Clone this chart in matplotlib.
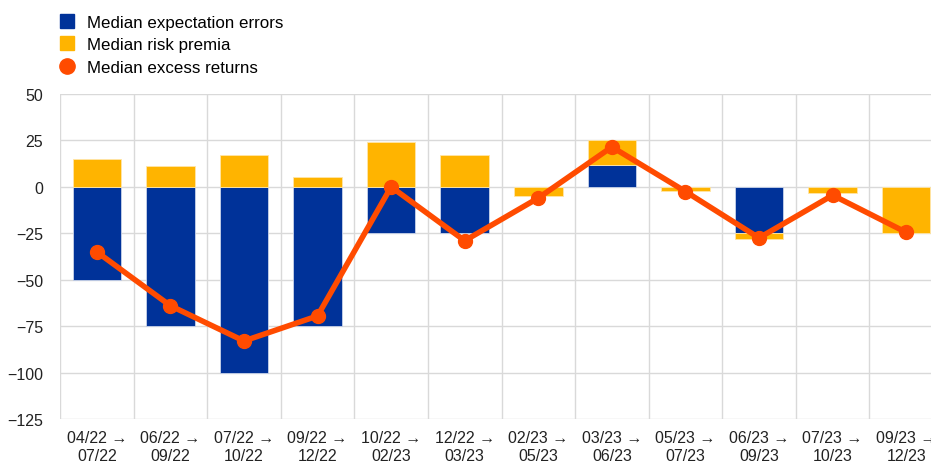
import numpy as np
import matplotlib.pyplot as plt
from matplotlib.lines import Line2D

plt.rcParams['font.family'] = ['Liberation Sans', 'DejaVu Sans']

# periods (start -> end)
periods = ["04/22 →\n07/22", "06/22 →\n09/22", "07/22 →\n10/22", "09/22 →\n12/22",
           "10/22 →\n02/23", "12/22 →\n03/23", "02/23 →\n05/23", "03/23 →\n06/23",
           "05/23 →\n07/23", "06/23 →\n09/23", "07/23 →\n10/23", "09/23 →\n12/23"]

# basis points
expectation_errors = [-50, -75, -100, -75, -25, -25, 0, 12, 0, -25, 0, 0]
risk_premia = [15, 11, 17, 5.5, 24, 17, -5, 13, -2, -3, -3.5, -25]
excess_returns = [-35, -64, -83, -69.5, 0, -29, -6, 21.5, -2.5, -27.5, -4.5, -24.5]

BLUE = '#003299'
YELLOW = '#ffb400'
ORANGE = '#ff4b00'

fig = plt.figure(figsize=(9.31, 4.64), dpi=100)
ax = fig.add_axes([60 / 931, 44 / 464, 883 / 931, 325 / 464])

x = np.arange(len(periods))
ee = np.array(expectation_errors, dtype=float)
rp = np.array(risk_premia, dtype=float)

# stack risk premia on top of expectation errors when both share a sign
rp_base = np.where((np.sign(rp) == np.sign(ee)) & (ee != 0), ee, 0)

ax.bar(x, ee, width=0.66, color=BLUE, edgecolor='#c9d3ea', linewidth=0.6, zorder=2)
ax.bar(x, rp, bottom=rp_base, width=0.66, color=YELLOW, edgecolor='#ffe6a8', linewidth=0.6, zorder=2)
ax.plot(x, excess_returns, color=ORANGE, lw=4, marker='o', markersize=10, zorder=3)

ax.set_xlim(-0.5, len(periods) - 0.5)
ax.set_ylim(-125, 50)
ax.set_yticks(np.arange(-125, 51, 25))
ax.set_xticks(x)
ax.set_xticklabels(periods)
ax.set_xticks(np.arange(-0.5, len(periods), 1), minor=True)

ax.grid(True, which='minor', axis='x', color='#d9d9d9', lw=1, zorder=0)
ax.grid(True, which='major', axis='y', color='#d9d9d9', lw=1, zorder=0)
ax.tick_params(axis='both', which='both', length=0, labelsize=11.5, colors='#222222')
ax.tick_params(axis='x', pad=8)
ax.tick_params(axis='y', pad=12)
for s in ax.spines.values():
    s.set_visible(False)

handles = [
    Line2D([], [], ls='none', marker='s', markersize=10, color=BLUE),
    Line2D([], [], ls='none', marker='s', markersize=10, color=YELLOW),
    Line2D([], [], ls='none', marker='o', markersize=11, color=ORANGE),
]
labels = ["Median expectation errors", "Median risk premia", "Median excess returns"]
fig.legend(handles, labels, loc='upper left', bbox_to_anchor=(52 / 931, 1 - 9 / 464),
           frameon=False, fontsize=12.2, handlelength=1.0, handletextpad=0.65,
           labelspacing=0.45, borderaxespad=0)

fig.savefig('out.png', dpi=100)
